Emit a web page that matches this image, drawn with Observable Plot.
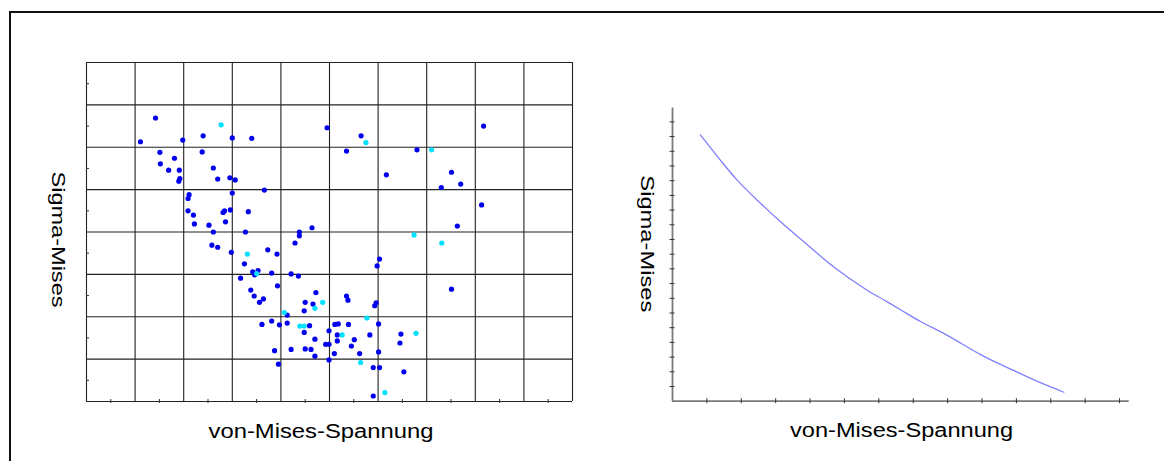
<!DOCTYPE html>
<html>
<head>
<meta charset="utf-8">
<script src="https://cdn.jsdelivr.net/npm/d3@7"></script>
<script src="https://cdn.jsdelivr.net/npm/@observablehq/plot@0.6"></script>
<style>
  html, body { margin: 0; padding: 0; background: #fff; width: 1164px; height: 461px; overflow: hidden; }
  #frame { position: absolute; left: 9px; top: 11px; width: 1200px; height: 500px; border-left: 2px solid #111; border-top: 2px solid #111; }
  #left { position: absolute; left: 0; top: 0; }
  #right { position: absolute; left: 582px; top: 0; }
</style>
</head>
<body>
<div id="frame"></div>
<div id="left"></div>
<div id="right"></div>
<script>
// ---- labels ----
const xLabel = "von-Mises-Spannung";
const yLabel = "Sigma-Mises";

// ---- left chart: scatter ----
const leftGridX = [0, 1, 2, 3, 4, 5, 6, 7, 8, 9, 10];
const leftGridY = [0, 1, 2, 3, 4, 5, 6, 7, 8];
const leftMinorX = [0.5, 1.5, 2.5, 3.5, 4.5, 5.5, 6.5, 7.5, 8.5, 9.5];
const leftMinorY = [0.5, 1.5, 2.5, 3.5, 4.5, 5.5, 6.5, 7.5];

const darkX = [1.42, 4.95, 1.11, 1.98, 2.40, 3.00, 3.40, 1.51, 1.81, 1.52, 2.38, 1.69, 1.91, 1.92, 1.90,
  2.61, 2.70, 2.95, 3.06, 3.66, 3.00, 2.11, 2.09, 2.09, 2.20, 2.81, 2.84, 2.96, 3.33, 2.22, 2.52, 2.86,
  4.64, 2.61, 3.27, 4.38, 4.38, 4.29, 2.58, 2.70, 2.98, 3.73, 3.92, 3.25, 3.42, 3.53, 3.46, 3.81, 4.21,
  4.36, 3.17, 3.93, 3.38, 3.45, 3.64, 3.56, 4.72, 4.50, 4.66, 4.48, 4.13, 3.81, 3.61, 3.97, 4.13, 4.59,
  4.99, 4.48, 4.70, 4.92, 4.99, 3.87, 4.21, 4.50, 4.62, 4.70, 4.99, 3.95, 5.65, 5.35, 8.17, 6.80, 6.17,
  7.51, 7.70, 7.30, 8.13, 7.63, 6.03, 5.98, 7.51, 5.35, 5.38, 5.96, 5.93, 5.11, 5.18, 5.39, 6.01, 5.16,
  5.83, 6.47, 5.16, 5.51, 5.45, 6.45, 5.10, 5.62, 6.01, 5.90, 6.03, 6.53, 5.90];
const darkY = [6.69, 6.46, 6.13, 6.17, 6.27, 6.22, 6.21, 5.88, 5.74, 5.61, 5.89, 5.46, 5.46, 5.26, 5.20,
  5.51, 5.25, 5.28, 5.23, 4.99, 4.92, 4.88, 4.79, 4.50, 4.40, 4.46, 4.50, 4.52, 4.48, 4.19, 4.16, 4.24,
  4.10, 4.00, 4.00, 4.00, 3.91, 3.74, 3.69, 3.64, 3.52, 3.58, 3.48, 3.25, 3.06, 3.09, 2.99, 3.03, 3.01,
  2.96, 2.91, 2.73, 2.63, 2.49, 2.42, 2.34, 2.57, 2.34, 2.30, 2.14, 2.04, 1.90, 1.82, 1.81, 1.85, 1.79,
  1.67, 1.63, 1.47, 1.35, 1.35, 1.20, 1.23, 1.24, 1.23, 1.07, 0.98, 0.88, 6.27, 5.91, 6.50, 5.94, 5.35,
  5.41, 5.13, 5.05, 4.64, 4.14, 3.36, 3.20, 2.65, 2.49, 2.39, 2.33, 2.26, 1.82, 1.83, 1.82, 1.83, 1.57,
  1.57, 1.59, 1.43, 1.46, 1.31, 1.38, 1.13, 1.13, 1.17, 0.80, 0.80, 0.70, 0.13];

const cyanX = [2.77, 3.31, 3.50, 4.86, 4.70, 4.07, 4.39, 4.48, 5.75, 7.10, 6.74, 7.31, 5.77, 5.26, 6.78, 5.64, 6.14];
const cyanY = [6.53, 3.48, 3.02, 2.34, 2.20, 2.10, 1.78, 1.78, 6.11, 5.94, 3.93, 3.74, 1.97, 1.57, 1.61, 0.92, 0.21];

// ---- right chart: curve ----
const rightTicksX = [1, 2, 3, 4, 5, 6, 7, 8, 9, 10, 11, 12, 13];
const rightTicksY = [1, 2, 3, 4, 5, 6, 7, 8, 9, 10, 11, 12, 13, 14, 15, 16, 17, 18, 19];
const curveX = [0.81, 1.35, 1.88, 2.56, 3.14, 3.82, 4.69, 5.66, 6.14, 6.63, 7.21, 7.99, 9.00, 10.02, 10.89, 11.38];
const curveY = [18.11, 16.52, 15.04, 13.46, 12.20, 10.84, 9.13, 7.55, 6.90, 6.22, 5.42, 4.48, 3.12, 1.98, 1.07, 0.61];

const darkPts = darkX.map((x, i) => ({x, y: darkY[i]}));
const cyanPts = cyanX.map((x, i) => ({x, y: cyanY[i]}));
const curvePts = curveX.map((x, i) => ({x, y: curveY[i]}));

const font = "'Liberation Sans', Arial, Helvetica, sans-serif";

const left = Plot.plot({
  width: 582, height: 461,
  marginLeft: 86, marginRight: 10, marginTop: 62, marginBottom: 60,
  style: {background: "transparent", color: "#000", fontFamily: font, overflow: "visible"},
  x: {domain: [0, 10]},
  y: {domain: [0, 8]},
  marks: [
    Plot.ruleX(leftGridX, {stroke: "#222", strokeWidth: 1.1}),
    Plot.ruleY(leftGridY, {stroke: "#222", strokeWidth: 1.1}),
    Plot.axisX({ticks: leftMinorX, tickSize: 4, dy: -2, fill: "none", stroke: "#333"}),
    Plot.axisY({ticks: leftMinorY, tickSize: 3, dx: 3, fill: "none", stroke: "#333"}),
    Plot.dot(darkPts, {x: "x", y: "y", r: 2.6, fill: "#0000ee", stroke: "none"}),
    Plot.dot(cyanPts, {x: "x", y: "y", r: 2.6, fill: "#00e0ff", stroke: "none"}),
    Plot.text([xLabel], {text: d => d, frameAnchor: "bottom", textAnchor: "middle", lineAnchor: "middle", dx: -8.5, dy: 29.6, fontSize: 20, fill: "#000"}),
    Plot.text([yLabel], {text: d => d, frameAnchor: "left", textAnchor: "middle", lineAnchor: "middle", rotate: 90, dx: -29, dy: 7.5, fontSize: 18, fill: "#000"})
  ]
});

const right = Plot.plot({
  width: 582, height: 461,
  marginLeft: 90, marginRight: 35.3, marginTop: 107.4, marginBottom: 60.3,
  style: {background: "transparent", color: "#000", fontFamily: font, overflow: "visible"},
  x: {domain: [0, 13.28]},
  y: {domain: [0, 19.95]},
  marks: [
    Plot.ruleX([0], {stroke: "#7a7a7a", strokeWidth: 1.8}),
    Plot.ruleY([0], {stroke: "#7a7a7a", strokeWidth: 1.8}),
    Plot.axisX({ticks: rightTicksX, tickSize: 5, dy: -2.5, fill: "none", stroke: "#333"}),
    Plot.axisY({ticks: rightTicksY, tickSize: 5, dx: 2.5, fill: "none", stroke: "#333"}),
    Plot.line(curvePts, {x: "x", y: "y", stroke: "#8080ff", strokeWidth: 1.3, curve: "catmull-rom"}),
    Plot.text([xLabel], {text: d => d, frameAnchor: "bottom", textAnchor: "middle", lineAnchor: "middle", dx: 0.7, dy: 29.6, fontSize: 20, fill: "#000"}),
    Plot.text([yLabel], {text: d => d, frameAnchor: "left", textAnchor: "middle", lineAnchor: "middle", rotate: 90, dx: -26, dy: -10.7, fontSize: 18, fill: "#000"})
  ]
});

function stretch(svg, txt, len) {
  d3.select(svg).selectAll("text")
    .filter(function () { return this.textContent === txt; })
    .attr("textLength", len)
    .attr("lengthAdjust", "spacingAndGlyphs");
}
stretch(left, xLabel, 225);
stretch(left, yLabel, 136);
stretch(right, xLabel, 223);
stretch(right, yLabel, 137);

document.getElementById("left").appendChild(left);
document.getElementById("right").appendChild(right);
</script>
</body>
</html>
